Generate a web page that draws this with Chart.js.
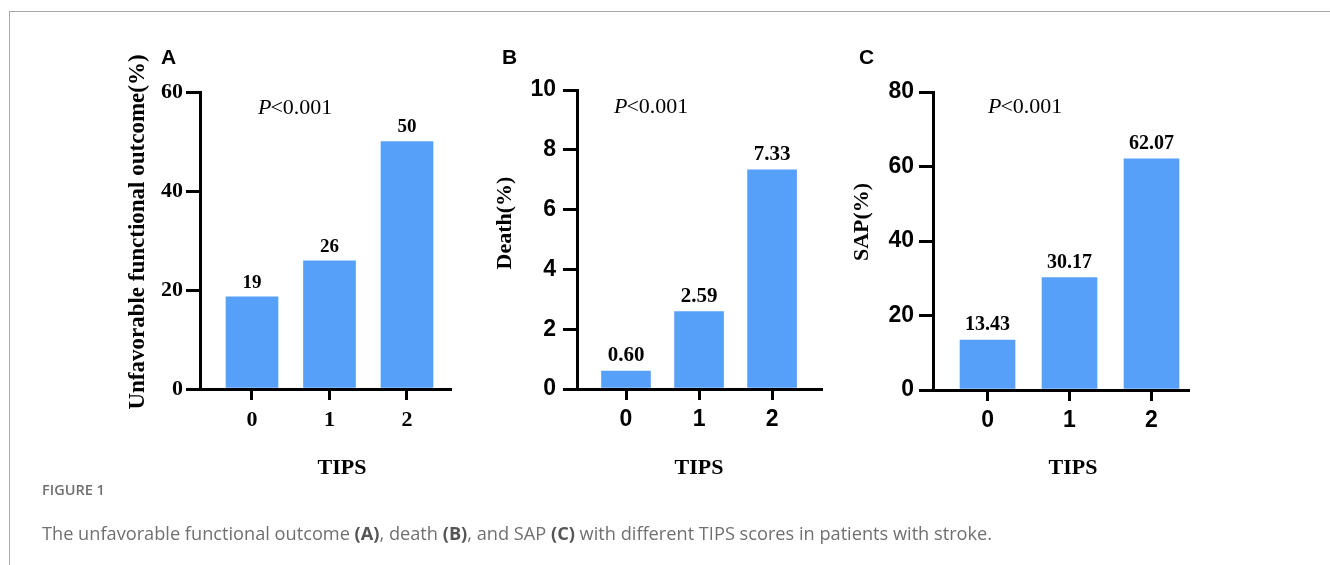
<!DOCTYPE html>
<html><head><meta charset="utf-8">
<script src="https://cdn.jsdelivr.net/npm/chart.js@4.4.1/dist/chart.umd.min.js"></script>
<style>
html,body{margin:0;padding:0;background:#fff;width:1330px;height:565px;overflow:hidden;position:relative;}
#frame{position:absolute;left:9px;top:11px;width:1330px;height:560px;border-top:1px solid #a8a8a8;border-left:1px solid #a8a8a8;}
canvas{position:absolute;left:0;top:0;}
.fig{position:absolute;left:42px;top:480px;font-family:"Open Sans";font-weight:600;font-size:14.5px;color:#6f6f6f;white-space:nowrap;}
.cap{position:absolute;left:42px;top:521px;font-family:"Open Sans";font-size:18.2px;color:#707070;white-space:nowrap;}
.cap b{color:#555;font-weight:700;}
</style></head><body>
<div id="frame"></div>
<canvas id="cA" width="1330" height="565"></canvas>
<canvas id="cB" width="1330" height="565"></canvas>
<canvas id="cC" width="1330" height="565"></canvas>
<div class="fig">FIGURE 1</div>
<div class="cap">The unfavorable functional outcome <b>(A)</b>, death <b>(B)</b>, and SAP <b>(C)</b> with different TIPS scores in patients with stroke.</div>
<script>
// ---- data ----
const categories = [0, 1, 2];
const tickLabels = ["0", "1", "2"];
const xTitle = "TIPS";
const pText = ["P", "<0.001"];

const valuesA = [18.6, 25.9, 50.0];
const labelsA = ["19", "26", "50"];
const yTitleA = "Unfavorable functional outcome(%)";
const yTicksA = [0, 20, 40, 60];

const valuesB = [0.60, 2.59, 7.33];
const labelsB = ["0.60", "2.59", "7.33"];
const yTitleB = "Death(%)";
const yTicksB = [0, 2, 4, 6, 8, 10];

const valuesC = [13.43, 30.17, 62.07];
const labelsC = ["13.43", "30.17", "62.07"];
const yTitleC = "SAP(%)";
const yTicksC = [0, 20, 40, 60, 80];

const panelLetters = ["A", "B", "C"];

const BAR = "#56A0FA";
const SERIF = "'Liberation Serif', 'Times New Roman', serif";
const SANS = "'Liberation Sans', Arial, sans-serif";
const W = 1330, H = 565, YW = 100, XH = 70;

function makePanel(id, o) {
  const textPlugin = {
    id: 'txt' + id,
    afterDatasetsDraw(chart) {
      const ctx = chart.ctx;
      ctx.save();
      ctx.fillStyle = '#000';
      ctx.textAlign = 'center';
      ctx.textBaseline = 'middle';
      ctx.font = 'bold ' + o.dlSize + 'px ' + SERIF;
      chart.getDatasetMeta(0).data.forEach((bar, i) => {
        ctx.fillText(o.labels[i], bar.x, bar.y - o.dlOff);
      });
      ctx.restore();
    },
    afterDraw(chart) {
      const ctx = chart.ctx;
      ctx.save();
      ctx.fillStyle = '#000';
      ctx.textBaseline = 'middle';
      ctx.save();
      ctx.translate(o.yt[0], o.yt[1]);
      ctx.rotate(-Math.PI / 2);
      ctx.textAlign = 'center';
      ctx.font = 'bold ' + o.ytSize + 'px ' + SERIF;
      ctx.fillText(o.yTitle, 0, 0);
      ctx.restore();
      ctx.textAlign = 'center';
      ctx.font = 'bold 22px ' + SERIF;
      ctx.fillText(xTitle, o.xt[0], o.xt[1]);
      ctx.textAlign = 'left';
      ctx.font = 'bold 21px ' + SANS;
      ctx.fillText(o.letter, o.lt[0], o.lt[1]);
      ctx.font = 'italic 22px ' + SERIF;
      ctx.fillText(pText[0], o.pt[0], o.pt[1]);
      const w = ctx.measureText(pText[0]).width;
      ctx.font = '22px ' + SERIF;
      ctx.fillText(pText[1], o.pt[0] + w - 1, o.pt[1]);
      ctx.restore();
    }
  };
  const a = o.area;
  return new Chart(document.getElementById(id), {
    type: 'bar',
    data: {
      datasets: [{
        data: categories.map((c, i) => ({ x: c, y: o.values[i] })),
        backgroundColor: BAR,
        borderWidth: 0,
        barThickness: o.barW
      }]
    },
    options: {
      responsive: false,
      animation: false,
      events: [],
      layout: { padding: { left: a.left - YW, top: a.top, right: W - a.right, bottom: H - a.bottom - XH } },
      plugins: { legend: { display: false }, tooltip: { enabled: false } },
      scales: {
        x: {
          type: 'linear',
          min: o.xMin, max: o.xMax,
          offset: false,
          afterFit(s) { s.height = XH; },
          afterBuildTicks(s) { s.ticks = categories.map(v => ({ value: v })); },
          grid: { display: true, drawOnChartArea: false, drawTicks: true, tickLength: o.xTickLen, color: '#000', lineWidth: 3, offset: false },
          border: { display: true, color: '#000', width: 3 },
          ticks: {
            color: '#000', padding: o.xPad,
            font: { family: o.tickFont, weight: 'bold', size: o.tickSize },
            callback: (v) => tickLabels[categories.indexOf(v)]
          }
        },
        y: {
          min: 0, max: o.yTicks[o.yTicks.length - 1],
          afterFit(s) { s.width = YW; },
          afterBuildTicks(s) { s.ticks = o.yTicks.map(v => ({ value: v })); },
          grid: { display: true, drawOnChartArea: false, drawTicks: true, tickLength: o.yTickLen, color: '#000', lineWidth: 3 },
          border: { display: true, color: '#000', width: 3 },
          ticks: {
            color: '#000', padding: o.yPad,
            font: { family: o.tickFont, weight: 'bold', size: o.tickSize }
          }
        }
      }
    },
    plugins: [textPlugin]
  });
}

makePanel('cA', {
  values: valuesA, labels: labelsA, yTitle: yTitleA, yTicks: yTicksA, letter: panelLetters[0],
  area: { left: 200, top: 92, right: 450, bottom: 389 },
  xMin: -0.671, xMax: 2.555, barW: 52,
  tickFont: SERIF, tickSize: 22, xTickLen: 11, xPad: 7, yTickLen: 14, yPad: 3,
  dlSize: 19, dlOff: 14, ytSize: 23,
  yt: [138, 232], xt: [342, 468], lt: [161, 58], pt: [258, 108]
});
makePanel('cB', {
  values: valuesB, labels: labelsB, yTitle: yTitleB, yTicks: yTicksB, letter: panelLetters[1],
  area: { left: 577, top: 90, right: 821, bottom: 389 },
  xMin: -0.671, xMax: 2.67, barW: 49,
  tickFont: SANS, tickSize: 23, xTickLen: 11, xPad: 6, yTickLen: 14, yPad: 7,
  dlSize: 21, dlOff: 15, ytSize: 22,
  yt: [505, 223], xt: [699, 468], lt: [502, 58], pt: [614, 107]
});
makePanel('cC', {
  values: valuesC, labels: labelsC, yTitle: yTitleC, yTicks: yTicksC, letter: panelLetters[2],
  area: { left: 933, top: 92, right: 1188, bottom: 390 },
  xMin: -0.665, xMax: 2.445, barW: 55,
  tickFont: SANS, tickSize: 23, xTickLen: 11, xPad: 6, yTickLen: 14, yPad: 5,
  dlSize: 20, dlOff: 15, ytSize: 22,
  yt: [862, 222], xt: [1073, 468], lt: [859, 58], pt: [988, 107]
});
</script>
</body></html>
